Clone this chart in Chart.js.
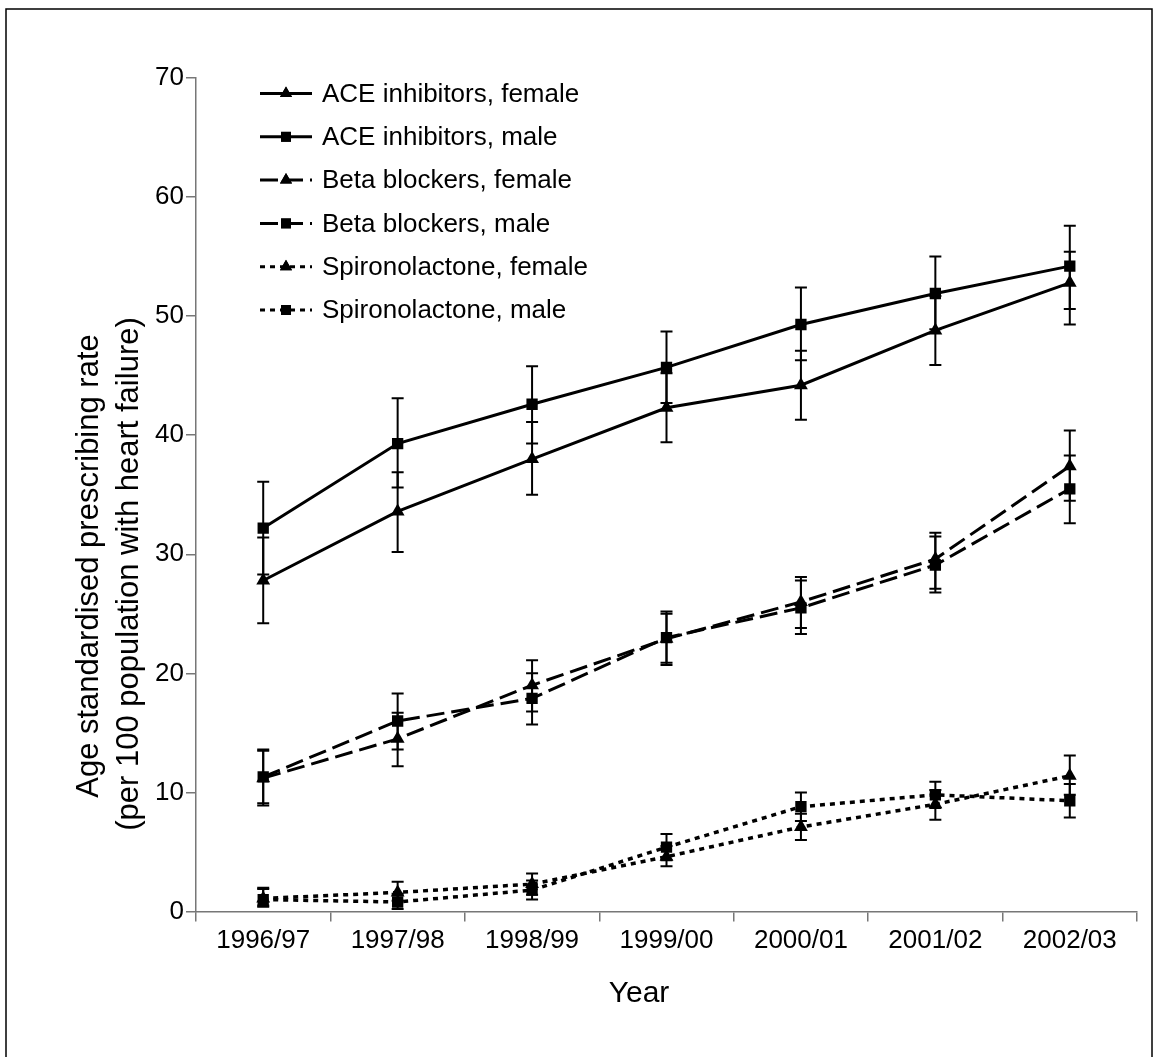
<!DOCTYPE html>
<html>
<head>
<meta charset="utf-8">
<script src="https://cdn.jsdelivr.net/npm/chart.js@4.4.1/dist/chart.umd.min.js"></script>
<style>
  html, body { margin: 0; padding: 0; background: #fff; }
  #wrap { width: 1158px; height: 1057px; position: relative; }
</style>
</head>
<body>
<div id="wrap"><canvas id="c" width="1158" height="1057"></canvas></div>
<script>
// ---- data ----
const categories = ['1996/97', '1997/98', '1998/99', '1999/00', '2000/01', '2001/02', '2002/03'];

const aceFemale     = [27.8, 33.6, 38.0, 42.3, 44.2, 48.8, 52.8];
const aceFemaleLow  = [24.2, 30.2, 35.0, 39.4, 41.3, 45.9, 49.3];
const aceFemaleHigh = [31.4, 36.9, 41.1, 45.2, 47.1, 51.7, 55.4];

const aceMale     = [32.2, 39.3, 42.6, 45.7, 49.3, 51.9, 54.2];
const aceMaleLow  = [28.3, 35.6, 39.3, 42.7, 46.3, 48.9, 50.6];
const aceMaleHigh = [36.1, 43.1, 45.8, 48.7, 52.4, 55.0, 57.6];

const betaFemale     = [11.2, 14.5, 19.0, 22.9, 26.0, 29.6, 37.4];
const betaFemaleLow  = [8.9, 12.2, 16.8, 20.7, 23.8, 27.1, 34.5];
const betaFemaleHigh = [13.5, 16.7, 21.1, 25.0, 28.1, 31.8, 40.4];

const betaMale     = [11.3, 16.0, 17.9, 23.0, 25.5, 29.1, 35.5];
const betaMaleLow  = [9.1, 13.6, 15.7, 20.9, 23.3, 26.8, 32.6];
const betaMaleHigh = [13.6, 18.3, 20.0, 25.2, 27.8, 31.5, 38.3];

const spiroFemale     = [1.1, 1.6, 2.3, 4.6, 7.1, 9.0, 11.4];
const spiroFemaleLow  = [0.4, 0.9, 1.4, 3.8, 6.0, 7.7, 9.8];
const spiroFemaleHigh = [1.9, 2.5, 3.2, 5.5, 8.2, 10.2, 13.1];

const spiroMale     = [1.0, 0.8, 1.8, 5.4, 8.8, 9.8, 9.3];
const spiroMaleLow  = [0.5, 0.2, 1.0, 4.3, 7.6, 8.7, 7.9];
const spiroMaleHigh = [2.0, 1.5, 2.6, 6.5, 10.0, 10.9, 10.7];

const yTicks = [0, 10, 20, 30, 40, 50, 60, 70];
const yTitleLines = ['Age standardised prescribing rate', '(per 100 population with heart failure)'];
const xTitle = 'Year';

// ---- styling ----
const FONT = "'Liberation Sans', Arial, Helvetica, sans-serif";
const SOLID = [];
const DASH = [18, 7];
const DOT = [5, 5];

function ds(label, data, low, high, style, dash) {
  return {
    label, data, errLow: low, errHigh: high,
    borderColor: '#000', backgroundColor: '#000',
    borderWidth: dash === DOT ? 3.5 : 3, borderDash: dash, borderCapStyle: 'butt',
    pointStyle: style, pointRadius: style === 'rect' ? 8 : 8,
    pointBorderWidth: 0, pointBackgroundColor: '#000',
    tension: 0, fill: false
  };
}

const datasets = [
  ds('ACE inhibitors, female', aceFemale, aceFemaleLow, aceFemaleHigh, 'triangle', SOLID),
  ds('ACE inhibitors, male', aceMale, aceMaleLow, aceMaleHigh, 'rect', SOLID),
  ds('Beta blockers, female', betaFemale, betaFemaleLow, betaFemaleHigh, 'triangle', DASH),
  ds('Beta blockers, male', betaMale, betaMaleLow, betaMaleHigh, 'rect', DASH),
  ds('Spironolactone, female', spiroFemale, spiroFemaleLow, spiroFemaleHigh, 'triangle', DOT),
  ds('Spironolactone, male', spiroMale, spiroMaleLow, spiroMaleHigh, 'rect', DOT)
];

const framePlugin = {
  id: 'frame',
  beforeDraw(chart) {
    const ctx = chart.ctx;
    ctx.save();
    ctx.fillStyle = '#fff';
    ctx.fillRect(0, 0, chart.width, chart.height);
    ctx.strokeStyle = '#000';
    ctx.lineWidth = 1.5;
    ctx.strokeRect(6, 9, 1146, 1100);
    ctx.restore();
  }
};

const errorBarPlugin = {
  id: 'errorBars',
  afterDatasetsDraw(chart) {
    const ctx = chart.ctx;
    const y = chart.scales.y;
    ctx.save();
    ctx.strokeStyle = '#000';
    ctx.lineWidth = 2;
    ctx.setLineDash([]);
    chart.data.datasets.forEach((d, i) => {
      const meta = chart.getDatasetMeta(i);
      meta.data.forEach((pt, j) => {
        const x = pt.x;
        const yl = y.getPixelForValue(d.errLow[j]);
        const yh = y.getPixelForValue(d.errHigh[j]);
        ctx.beginPath();
        ctx.moveTo(x, yl); ctx.lineTo(x, yh);
        ctx.moveTo(x - 6, yl); ctx.lineTo(x + 6, yl);
        ctx.moveTo(x - 6, yh); ctx.lineTo(x + 6, yh);
        ctx.stroke();
      });
    });
    ctx.restore();
  }
};

const legendPlugin = {
  id: 'customLegend',
  afterDraw(chart) {
    const ctx = chart.ctx;
    ctx.save();
    chart.data.datasets.forEach((d, i) => {
      const yy = 93.5 + i * 43.3;
      ctx.strokeStyle = '#000';
      ctx.lineWidth = 3;
      ctx.lineCap = 'butt';
      ctx.setLineDash(d.borderDash);
      ctx.beginPath();
      ctx.moveTo(260, yy); ctx.lineTo(312, yy);
      ctx.stroke();
      ctx.setLineDash([]);
      Chart.helpers.drawPoint(ctx, {pointStyle: d.pointStyle, radius: 7, rotation: 0, borderWidth: 0}, 286, yy);
      ctx.fillStyle = '#000';
      ctx.fill();
      ctx.font = '26px ' + FONT;
      ctx.textAlign = 'left';
      ctx.textBaseline = 'middle';
      ctx.fillText(d.label, 322, yy + 1);
    });
    ctx.restore();
  }
};

const titlesPlugin = {
  id: 'titles',
  afterDraw(chart) {
    const ctx = chart.ctx;
    ctx.save();
    ctx.fillStyle = '#000';
    ctx.font = '30px ' + FONT;
    ctx.textAlign = 'center';
    ctx.textBaseline = 'middle';
    ctx.fillText(xTitle, 639, 994);
    ctx.font = '31px ' + FONT;
    ctx.textBaseline = 'alphabetic';
    ctx.textAlign = 'center';
    const baseX = [98, 138];
    const centerY = [566, 574];
    yTitleLines.forEach((t, i) => {
      ctx.save();
      ctx.translate(baseX[i], centerY[i]);
      ctx.rotate(-Math.PI / 2);
      ctx.fillText(t, 0, 0);
      ctx.restore();
    });
    ctx.restore();
  }
};

new Chart(document.getElementById('c'), {
  type: 'line',
  data: { labels: categories, datasets },
  plugins: [framePlugin, errorBarPlugin, legendPlugin, titlesPlugin],
  options: {
    responsive: false,
    animation: false,
    devicePixelRatio: 1,
    layout: { padding: { left: 0, right: 21, top: 78, bottom: 0 } },
    plugins: { legend: { display: false }, tooltip: { enabled: false } },
    scales: {
      x: {
        type: 'category',
        offset: true,
        grid: { offset: true, drawOnChartArea: false, drawTicks: true, tickLength: 10, color: '#777', lineWidth: 1.5 },
        border: { display: true, color: '#777', width: 1.5 },
        ticks: { color: '#000', font: { family: FONT, size: 26 }, padding: 4, maxRotation: 0, autoSkip: false },
        afterFit(scale) { scale.height = 145.5; }
      },
      y: {
        min: 0, max: 70,
        afterBuildTicks(scale) { scale.ticks = yTicks.map(v => ({ value: v })); },
        grid: { drawOnChartArea: false, drawTicks: true, tickLength: 10, color: '#777', lineWidth: 1.5 },
        border: { display: true, color: '#777', width: 1.5 },
        ticks: { color: '#000', font: { family: FONT, size: 26 }, padding: 2 },
        afterFit(scale) { scale.width = 196; }
      }
    }
  }
});
</script>
</body>
</html>
